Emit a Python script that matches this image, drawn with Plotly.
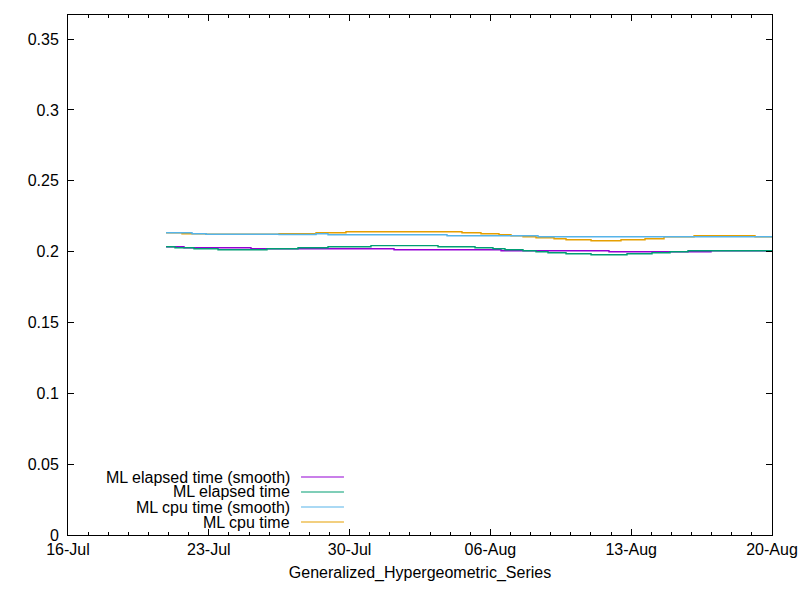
import plotly.graph_objects as go

# ML cpu time (raw)
cpu_t = ["2023-07-20 21:00", "2023-07-21 16:00", "2023-07-22 20:40", "2023-07-26 11:45",
         "2023-07-28 07:55", "2023-07-29 19:40", "2023-08-04 14:05", "2023-08-05 12:45",
         "2023-08-06 10:15", "2023-08-07 00:35", "2023-08-07 14:55", "2023-08-08 06:25",
         "2023-08-09 03:55", "2023-08-09 18:15", "2023-08-11 00:05", "2023-08-12 11:50",
         "2023-08-13 16:30", "2023-08-14 15:10", "2023-08-16 03:00", "2023-08-19 03:45",
         "2023-08-20 00:00"]
cpu_v = [0.2133, 0.2126, 0.2123, 0.2126, 0.2133, 0.2140, 0.2133, 0.2126,
         0.2119, 0.2112, 0.2105, 0.2098, 0.2091, 0.2084, 0.2077, 0.2084,
         0.2091, 0.2105, 0.2112, 0.2105, 0.2105]

# ML cpu time (smooth)
cpu_s_t = ["2023-07-20 21:00", "2023-07-22 04:00", "2023-07-22 20:40", "2023-07-26 11:45",
           "2023-07-28 07:55", "2023-07-28 22:15", "2023-08-03 20:15", "2023-08-08 08:50",
           "2023-08-20 00:00"]
cpu_s_v = [0.2133, 0.2126, 0.2123, 0.2121, 0.2126, 0.2119, 0.2112, 0.2105, 0.2105]

# ML elapsed time (raw)
ela_t = ["2023-07-20 21:00", "2023-07-21 07:40", "2023-07-22 06:20", "2023-07-23 11:00",
         "2023-07-25 21:25", "2023-07-27 10:25", "2023-07-28 22:15", "2023-07-31 01:30",
         "2023-08-03 09:30", "2023-08-05 05:40", "2023-08-06 03:05", "2023-08-06 17:25",
         "2023-08-07 14:55", "2023-08-08 06:25", "2023-08-08 20:45", "2023-08-09 18:15",
         "2023-08-11 00:05", "2023-08-12 19:00", "2023-08-14 00:50", "2023-08-14 22:20",
         "2023-08-15 19:45", "2023-08-20 00:00"]
ela_v = [0.2034, 0.2027, 0.2020, 0.2013, 0.2020, 0.2027, 0.2034, 0.2042,
         0.2034, 0.2027, 0.2020, 0.2013, 0.2006, 0.1999, 0.1992, 0.1985,
         0.1978, 0.1985, 0.1992, 0.1999, 0.2006, 0.2006]

# ML elapsed time (smooth)
ela_s_t = ["2023-07-20 21:00", "2023-07-21 18:25", "2023-07-25 02:20", "2023-08-01 05:00",
           "2023-08-06 12:40", "2023-08-11 21:30", "2023-08-16 23:15", "2023-08-20 00:00"]
ela_s_v = [0.2034, 0.2027, 0.2020, 0.2013, 0.2006, 0.1999, 0.2006, 0.2006]

legend_names = ["ML elapsed time (smooth)", "ML elapsed time",
                "ML cpu time (smooth)", "ML cpu time"]
legend_colors = ["#9400d3", "#009e73", "#56b4e9", "#e69f00"]

FONT = "Liberation Sans, Arial, sans-serif"

fig = go.Figure()
series = [
    (ela_s_t, ela_s_v, legend_names[0], legend_colors[0]),
    (ela_t, ela_v, legend_names[1], legend_colors[1]),
    (cpu_t, cpu_v, legend_names[3], legend_colors[3]),
    (cpu_s_t, cpu_s_v, legend_names[2], legend_colors[2]),
]
for xs, ys, name, color in series:
    fig.add_trace(go.Scatter(
        x=xs, y=ys, name=name, mode="lines", line_shape="hv",
        line=dict(color=color, width=1.4), showlegend=False,
    ))

# gnuplot style key: right aligned text with sample line on the right
row_y = [0.1115, 0.0827, 0.0538, 0.025]
for name, color, yy in zip(legend_names, legend_colors, row_y):
    fig.add_annotation(x=0.318, y=yy, xref="paper", yref="paper", text=name,
                       showarrow=False, xanchor="right", yanchor="middle",
                       font=dict(family=FONT, size=16, color="#000000"))
    fig.add_shape(type="line", xref="paper", yref="paper", x0=0.331, x1=0.392,
                  y0=yy, y1=yy, line=dict(color=color, width=1.2))

axis_common = dict(
    showline=True, linecolor="#000000", linewidth=1, mirror="allticks",
    ticks="inside", ticklen=6, tickcolor="#000000", showgrid=False, zeroline=False,
    tickfont=dict(family=FONT, size=16, color="#000000"),
)

fig.update_xaxes(
    type="date", range=["2023-07-16", "2023-08-20"],
    tick0="2023-07-16", dtick=7 * 86400000, tickformat="%d-%b",
    minor=dict(dtick=86400000, ticks="inside", ticklen=3, tickcolor="#000000"),
    ticklabelstandoff=0,
    title=dict(text="Generalized_Hypergeometric_Series", standoff=9,
               font=dict(family=FONT, size=16, color="#000000")),
    **axis_common,
)
fig.update_yaxes(range=[0, 0.367], dtick=0.05, ticklabelstandoff=5, **axis_common)

fig.update_layout(
    width=800, height=600,
    margin=dict(l=68, r=28, t=15, b=65, autoexpand=False),
    paper_bgcolor="#ffffff", plot_bgcolor="#ffffff",
    font=dict(family=FONT, size=16, color="#000000"),
)

# drop the page's default body margin so the figure sits at the window corner
fig.write_html("out.html", config={"displayModeBar": False},
               post_script="document.body.style.margin='0';")
